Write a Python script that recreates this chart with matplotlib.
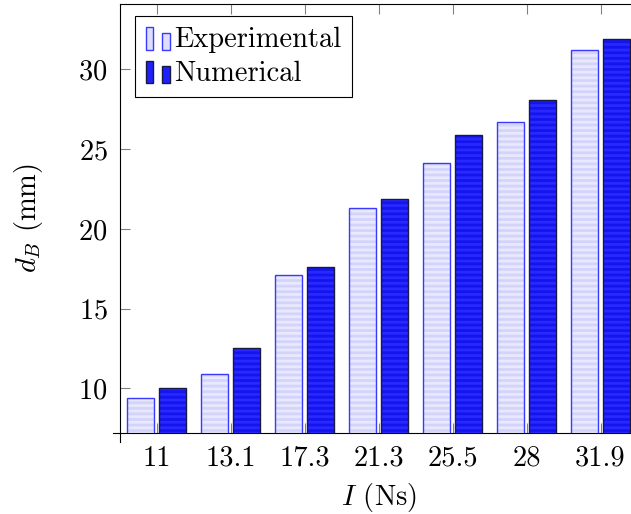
import numpy as np
import matplotlib
matplotlib.use('Agg')
import matplotlib.pyplot as plt
from matplotlib.patches import Rectangle
from matplotlib.legend_handler import HandlerBase

plt.rcParams['font.family'] = 'cmr10'
plt.rcParams['mathtext.fontset'] = 'cm'
plt.rcParams['axes.formatter.use_mathtext'] = True
plt.rcParams['hatch.linewidth'] = 2.0

# impulse classes and measured/simulated diameters
impulse = ['11', '13.1', '17.3', '21.3', '25.5', '28', '31.9']
experimental = [9.4, 10.9, 17.1, 21.3, 24.1, 26.7, 31.2]
numerical = [10.0, 12.5, 17.6, 21.9, 25.9, 28.1, 31.9]

fs = 20.5
x = np.arange(len(impulse))
w = 0.365
shift = 0.213

fig = plt.figure(figsize=(6.31, 5.14), dpi=100)
ax = fig.add_axes([0.1902, 0.1576, 0.8194, 0.8346])


def striped_bars(pos, vals, face, stripe, edge):
    # shaded fill with horizontal bands, then the outline on top
    ax.bar(pos, vals, w, bottom=0, color=face, edgecolor=stripe,
           linewidth=0, hatch='---', zorder=2)
    return ax.bar(pos, vals, w, bottom=0, fill=False, edgecolor=edge,
                  linewidth=1.0, zorder=3)


b_exp = striped_bars(x - shift, experimental, '#e8e8fe', '#d4d4fb', '#3a3aff')
b_num = striped_bars(x + shift, numerical, '#2828ff', '#1414ee', '#1a1a40')

ax.set_xlim(-0.494, 6.494)
ax.set_ylim(7.2, 34.1)
ax.set_xticks(x)
ax.set_xticklabels(impulse)
ax.set_yticks([10, 15, 20, 25, 30])
ax.tick_params(direction='in', length=7.2, width=0.8, color='#808080',
               top=True, right=True, labelsize=fs, pad=9)
for s in ax.spines.values():
    s.set_linewidth(0.8)

# small overhang where the two axis lines cross
ax.plot([-0.014, 0], [0, 0], color='black', lw=0.8,
        transform=ax.transAxes, clip_on=False)
ax.plot([0, 0], [-0.021, 0], color='black', lw=0.8,
        transform=ax.transAxes, clip_on=False)

ax.set_xlabel('$I$ (Ns)', fontsize=fs, labelpad=6.5)
ax.set_ylabel('$d_B$ (mm)', fontsize=fs, labelpad=24)


class TwoBars(HandlerBase):
    def create_artists(self, legend, orig_handle, xdescent, ydescent,
                       width, height, fontsize, trans):
        bw = 0.26 * fontsize
        y0 = -ydescent - 0.1 * fontsize
        r1 = Rectangle((-xdescent, y0), bw, 0.8 * fontsize,
                       facecolor=orig_handle.get_facecolor(),
                       edgecolor=orig_handle.get_edgecolor(), lw=1.0,
                       transform=trans)
        r2 = Rectangle((-xdescent + width - bw, y0), bw, 0.6 * fontsize,
                       facecolor=orig_handle.get_facecolor(),
                       edgecolor=orig_handle.get_edgecolor(), lw=1.0,
                       transform=trans)
        return [r1, r2]


h_exp = Rectangle((0, 0), 1, 1, facecolor='#dedefd', edgecolor='#3a3aff')
h_num = Rectangle((0, 0), 1, 1, facecolor='#2020ff', edgecolor='#1a1a40')
leg = ax.legend([h_exp, h_num], ['Experimental', 'Numerical'],
                handler_map={h_exp: TwoBars(), h_num: TwoBars()},
                loc='upper left', bbox_to_anchor=(0.0286, 0.972),
                borderaxespad=0, fontsize=fs, fancybox=False,
                edgecolor='black', framealpha=1, handlelength=0.85,
                handletextpad=0.15, borderpad=0.38, labelspacing=0.25)
leg.get_frame().set_linewidth(0.8)

fig.savefig('out.png', dpi=100)
